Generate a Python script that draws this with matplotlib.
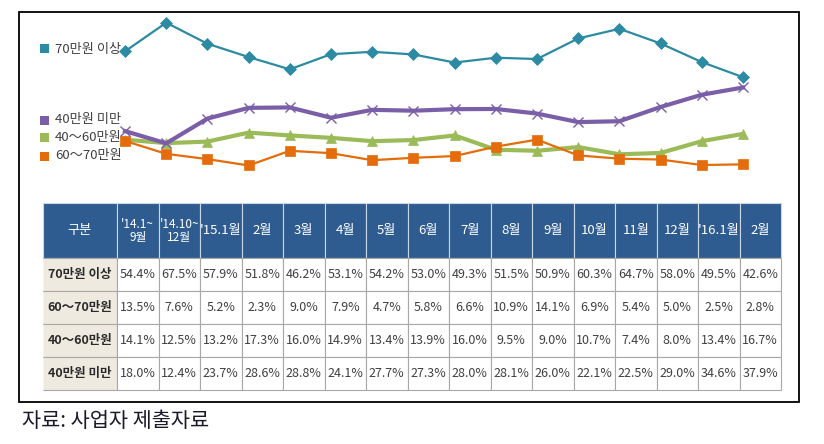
import matplotlib
matplotlib.use("Agg")
import matplotlib.pyplot as plt
from matplotlib.patches import Rectangle

plt.rcParams['font.family'] = ['Noto Sans CJK KR', 'DejaVu Sans']

periods = ["'14.1~\n9월", "'14.10~\n12월", "'15.1월", "2월", "3월", "4월", "5월", "6월",
           "7월", "8월", "9월", "10월", "11월", "12월", "'16.1월", "2월"]
series_names = ["70만원 이상", "60～70만원", "40～60만원", "40만원 미만"]
over70 = [54.4, 67.5, 57.9, 51.8, 46.2, 53.1, 54.2, 53.0, 49.3, 51.5, 50.9, 60.3, 64.7, 58.0, 49.5, 42.6]
r60_70 = [13.5, 7.6, 5.2, 2.3, 9.0, 7.9, 4.7, 5.8, 6.6, 10.9, 14.1, 6.9, 5.4, 5.0, 2.5, 2.8]
r40_60 = [14.1, 12.5, 13.2, 17.3, 16.0, 14.9, 13.4, 13.9, 16.0, 9.5, 9.0, 10.7, 7.4, 8.0, 13.4, 16.7]
under40 = [18.0, 12.4, 23.7, 28.6, 28.8, 24.1, 27.7, 27.3, 28.0, 28.1, 26.0, 22.1, 22.5, 29.0, 34.6, 37.9]
caption = "자료: 사업자 제출자료"

W, H = 824, 444
fig = plt.figure(figsize=(W / 100, H / 100), dpi=100)

def fx(px):
    return px / W

def fy(py):
    return 1 - py / H

# outer frame
fig.add_artist(Rectangle((fx(19), fy(402)), fx(799) - fx(19), fy(12) - fy(402),
                         transform=fig.transFigure, fill=False, edgecolor='black', lw=1.3))

# line chart
ax = fig.add_axes([fx(125), fy(170.5), fx(743) - fx(125), fy(17.2) - fy(170.5)])
ax.set_xlim(0, 15)
ax.set_ylim(0, 70)
ax.axis('off')
x = list(range(len(periods)))
styles = [
    (over70, '#2C8AA2', 'D', 1.6, 6.5, 4, 0.5),
    (r60_70, '#E46C0A', 's', 1.6, 6.5, 3, 0.5),
    (r40_60, '#9BBB59', '^', 3.0, 7.5, 2, 0.5),
    (under40, '#7B5EA8', 'x', 3.0, 7.5, 3, 1.0),
]
for vals, col, mk, lw, ms, z, mew in styles:
    ax.plot(x, vals, color=col, marker=mk, lw=lw, ms=ms, clip_on=False, zorder=z,
            markeredgewidth=mew)

# legend
leg_items = [("70만원 이상", '#2C8AA2', 49), ("40만원 미만", '#7B5EA8', 120),
             ("40～60만원", '#9BBB59', 138), ("60～70만원", '#E46C0A', 156)]
for name, col, yc in leg_items:
    fig.add_artist(Rectangle((fx(40), fy(yc + 4.5)), fx(9), 9 / H,
                             transform=fig.transFigure, facecolor=col, edgecolor='none'))
    fig.text(fx(55), fy(yc), name, ha='left', va='center', fontsize=9.5, color='#404040')

# table
tax = fig.add_axes([fx(43), fy(390), fx(781) - fx(43), fy(203) - fy(390)])
tax.axis('off')
rows = []
for name, vals in zip(series_names, [over70, r60_70, r40_60, under40]):
    rows.append([name] + [f"{v:.1f}%" for v in vals])
tbl = tax.table(cellText=rows, colLabels=["구분"] + periods, cellLoc='center',
                loc='center', bbox=[0, 0, 1, 1])
tbl.auto_set_font_size(False)
for (r, c), cell in tbl.get_celld().items():
    cell.set_width(74 if c == 0 else 41.5)
    cell.set_height(55 if r == 0 else 33)
    cell.PAD = 0.02
    t = cell.get_text()
    if r == 0:
        cell.set_facecolor('#2F5C90')
        cell.set_edgecolor('#C9D6E6')
        cell.set_linewidth(0.8)
        t.set_color('white')
        t.set_fontsize(8.5 if c in (1, 2) else 9.5)
        t.set_linespacing(1.0)
    else:
        cell.set_edgecolor('#A8A8A8')
        cell.set_linewidth(0.8)
        if c == 0:
            cell.set_facecolor('#EEEAE0')
            cell.visible_edges = 'BRT'
            t.set_color('#2A2A2A')
            t.set_fontsize(9)
            t.set_fontweight('bold')
        else:
            cell.set_facecolor('white')
            t.set_color('#404040')
            t.set_fontsize(9)

fig.text(fx(22), fy(421), caption, ha='left', va='center', fontsize=15, color='#1A1A2A')

fig.savefig('out.png', dpi=100)
